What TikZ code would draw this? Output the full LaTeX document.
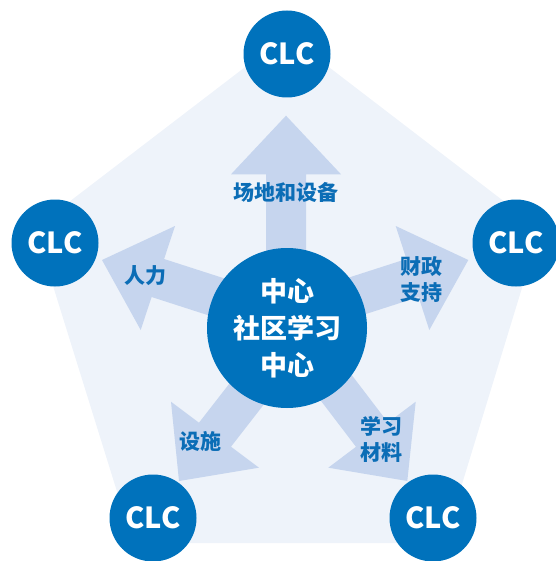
\documentclass[tikz,border=0pt]{standalone}
\usepackage{fontspec}
\setmainfont{Noto Sans CJK SC}
\definecolor{pentafill}{HTML}{EEF3FA}
\definecolor{arrowfill}{HTML}{C6D5EE}
\definecolor{darkblue}{HTML}{0072BC}
\definecolor{labelblue}{HTML}{0B6DB6}
\tikzset{
  clc/.style={circle, fill=darkblue, minimum size=87pt, inner sep=0pt, text=white, font=\fontsize{29}{32}\selectfont\bfseries},
  hubstyle/.style={circle, fill=darkblue, minimum size=160pt, inner sep=0pt, text=white, align=center, font=\fontsize{27}{37}\selectfont\bfseries},
  flowarrow/.style={fill=arrowfill, draw=none},
  flowlabel/.style={text=labelblue, align=center, inner sep=0pt, font=\fontsize{21}{26}\selectfont\bfseries},
}
\begin{document}
\begin{tikzpicture}[x=1pt, y=-1pt]
\useasboundingbox (0,0) rectangle (555,561);
% pentagon background
\fill[pentafill] (287,35) -- (540,229) -- (444,543) -- (133,543) -- (35,228) -- cycle;
% arrows
\fill[flowarrow] (266,330) -- (266,174.3) -- (231,174.3) -- (286,115.7) -- (341,174.3) -- (306,174.3) -- (306,330) -- cycle;
\fill[flowarrow] (292.6,300.4) -- (164.1,259.0) -- (175,226) -- (102,260) -- (140.7,330) -- (151.6,297.0) -- (280.0,338.4) -- cycle;
\fill[flowarrow] (282.6,298.9) -- (406.4,259.0) -- (395.7,226) -- (468.3,260) -- (429.3,330) -- (418.6,297.0) -- (294.8,336.9) -- cycle;
\fill[flowarrow] (275.7,324) -- (199,422.7) -- (171,401.7) -- (179,481) -- (259,467.7) -- (231,446.7) -- (307.7,348) -- cycle;
\fill[flowarrow] (312.2,323.2) -- (388,422.6) -- (415.7,401.7) -- (407.3,481) -- (328.3,467.7) -- (356,446.8) -- (280.2,347.4) -- cycle;
% labels
\node[flowlabel] (lbTop) at (286,192) {场地和设备};
\node[flowlabel] (lbLeft) at (145,276) {人力};
\node[flowlabel] (lbRight) at (421,280) {财政\\支持};
\node[flowlabel] (lbBL) at (200,441) {设施};
\node[flowlabel] (lbBR) at (381,439) {学习\\材料};
% hub
\node[hubstyle] (hub) at (287,328) {中心\\社区学习\\中心};
% CLC circles
\node[clc] (clcT) at (287,54) {CLC};
\node[clc] (clcL) at (55,243) {CLC};
\node[clc] (clcR) at (516,243) {CLC};
\node[clc] (clcBL) at (153,518) {CLC};
\node[clc] (clcBR) at (433,518) {CLC};
\end{tikzpicture}
\end{document}
